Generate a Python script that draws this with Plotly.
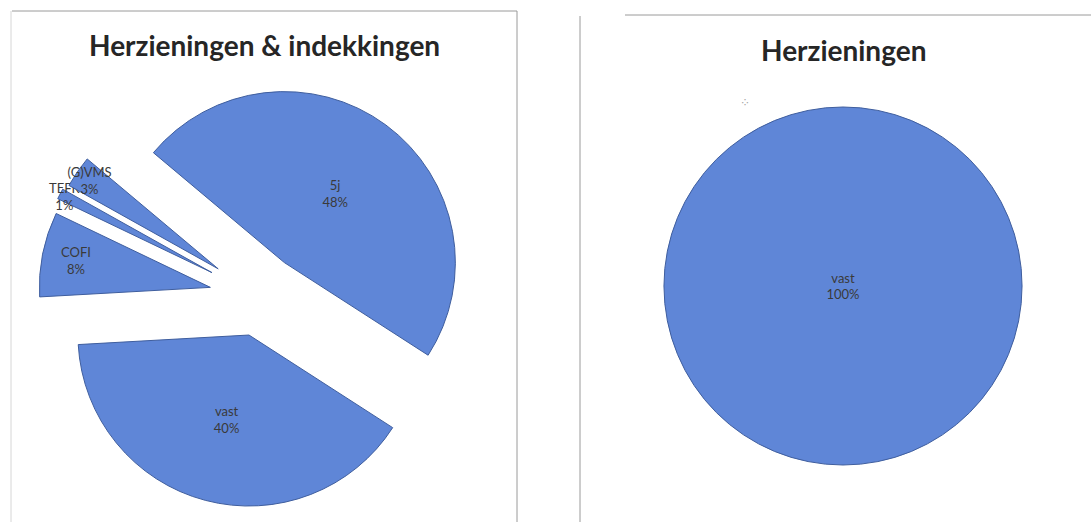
import plotly.graph_objects as go

W, H = 1091, 522

# Left chart: revisions & indexations
left_labels = ["5j", "vast", "COFI", "TEFR", "(G)VMS"]
left_values = [48, 40, 8, 1, 3]
left_pull = [0.25, 0.23, 0.29, 0.31, 0.29]

# Right chart: revisions only
right_labels = ["vast"]
right_values = [100]

titles = ["Herzieningen &amp; indekkingen", "Herzieningen"]

FILL = "#5f86d7"
EDGE = "#3f5e9e"
TEXT = "#3a3a3a"
FONT = "Lato, 'Open Sans', sans-serif"


def px_domain(cx, cy, half):
    return dict(x=[(cx - half) / W, (cx + half) / W],
                y=[max(0, 1 - (cy + half) / H), min(1, 1 - (cy - half) / H)])


label_font = dict(family=FONT, size=13, color=TEXT)

fig = go.Figure()

fig.add_trace(go.Pie(
    labels=left_labels,
    values=left_values,
    pull=left_pull,
    sort=False,
    direction="clockwise",
    rotation=-50,
    marker=dict(colors=[FILL] * len(left_values), line=dict(color=EDGE, width=1)),
    texttemplate="%{label}<br>%{percent:.0%}",
    textposition="inside",
    insidetextorientation="horizontal",
    textfont=label_font,
    insidetextfont=label_font,
    outsidetextfont=label_font,
    domain=px_domain(259, 297, 224),
    showlegend=False,
    hoverinfo="label+percent",
))

fig.add_trace(go.Pie(
    labels=right_labels,
    values=right_values,
    sort=False,
    direction="clockwise",
    marker=dict(colors=[FILL], line=dict(color=EDGE, width=1)),
    texttemplate="%{label}<br>%{percent:.0%}",
    textposition="inside",
    insidetextorientation="horizontal",
    textfont=label_font,
    insidetextfont=label_font,
    domain=px_domain(843, 286, 179),
    showlegend=False,
    hoverinfo="label+percent",
))

# Panel frames
frame = dict(type="line", xref="paper", yref="paper",
             line=dict(color="#9a9a9a", width=1))
shapes = [
    dict(frame, x0=12 / W, x1=517 / W, y0=1 - 11 / H, y1=1 - 11 / H),
    dict(frame, x0=11 / W, x1=11 / W, y0=1 - 11 / H, y1=0, line=dict(color="#d6d6d6", width=1)),
    dict(frame, x0=517 / W, x1=517 / W, y0=1 - 11 / H, y1=0),
    dict(frame, x0=580 / W, x1=580 / W, y0=1 - 16 / H, y1=0),
    dict(frame, x0=625 / W, x1=1, y0=1 - 15 / H, y1=1 - 15 / H),
]

annotations = [
    dict(text=f"<b>{titles[0]}</b>", x=264 / W, y=1 - 45 / H, xref="paper", yref="paper",
         xanchor="center", yanchor="middle", showarrow=False,
         font=dict(family=FONT, size=28, color="#262626")),
    dict(text=f"<b>{titles[1]}</b>", x=843 / W, y=1 - 50 / H, xref="paper", yref="paper",
         xanchor="center", yanchor="middle", showarrow=False,
         font=dict(family=FONT, size=28, color="#262626")),
    dict(text="⁘", x=745 / W, y=1 - 103 / H, xref="paper", yref="paper",
         xanchor="center", yanchor="middle", showarrow=False,
         font=dict(family="DejaVu Sans", size=12, color="#a8a8a8")),
]

fig.update_layout(
    width=W, height=H,
    margin=dict(l=0, r=0, t=0, b=0),
    paper_bgcolor="white",
    plot_bgcolor="white",
    shapes=shapes,
    annotations=annotations,
    uniformtext=dict(minsize=13, mode="show"),
)

fig.write_html("out.html")
